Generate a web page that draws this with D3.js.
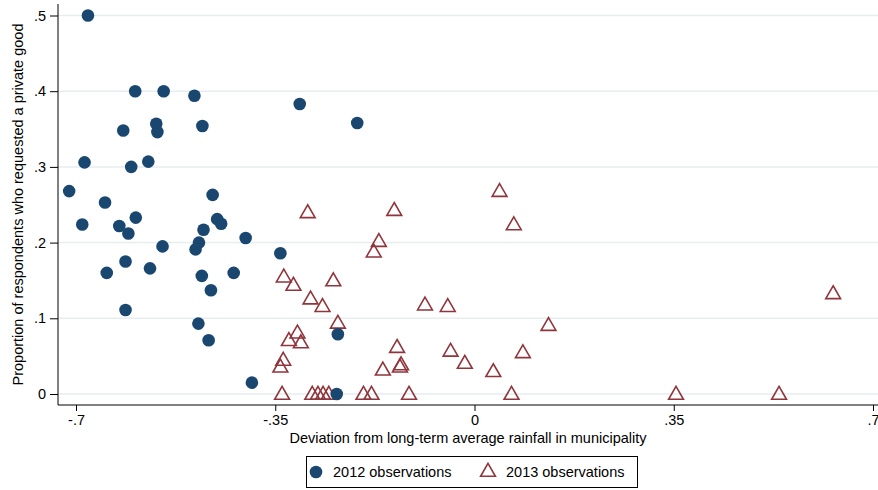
<!DOCTYPE html>
<html>
<head>
<meta charset="utf-8">
<script src="https://cdn.jsdelivr.net/npm/d3@7"></script>
<style>
  body { margin: 0; background: #fff; }
  text { font-family: "Liberation Sans", Arial, sans-serif; }
</style>
</head>
<body>
<div id="chart"></div>
<script>
// 2012 observations: rainfall deviation / proportion requesting private good
var dev2012 = [-0.679, -0.596, -0.546, -0.492, -0.307, -0.206, -0.617, -0.559, -0.557, -0.478,
               -0.685, -0.603, -0.573, -0.712, -0.649, -0.460, -0.595, -0.452, -0.445, -0.689,
               -0.624, -0.608, -0.646, -0.613, -0.570, -0.548, -0.613, -0.490, -0.484, -0.476,
               -0.479, -0.463, -0.423, -0.402, -0.341, -0.485, -0.467, -0.391, -0.240, -0.242];
var prop2012 = [0.500, 0.400, 0.400, 0.394, 0.383, 0.358, 0.348, 0.357, 0.346, 0.354,
                0.306, 0.300, 0.307, 0.268, 0.253, 0.263, 0.233, 0.231, 0.225, 0.224,
                0.222, 0.212, 0.160, 0.175, 0.166, 0.195, 0.111, 0.191, 0.200, 0.217,
                0.156, 0.137, 0.160, 0.206, 0.186, 0.093, 0.071, 0.015, 0.079, 0.000];

// 2013 observations
var dev2013 = [-0.293, -0.141, -0.168, -0.177, -0.335, -0.318, -0.248, -0.288, -0.267, -0.087,
               -0.047, -0.240, -0.311, -0.326, -0.305, -0.136, -0.042, -0.017, -0.336, -0.341,
               -0.161, -0.129, -0.131, -0.338, -0.285, -0.275, -0.266, -0.256, -0.195, -0.181,
               -0.115, 0.044, 0.069, 0.130, 0.085, 0.033, 0.065, 0.354, 0.535, 0.630];
var prop2013 = [0.240, 0.243, 0.202, 0.188, 0.155, 0.144, 0.150, 0.126, 0.116, 0.118,
                0.116, 0.094, 0.081, 0.071, 0.068, 0.062, 0.057, 0.041, 0.045, 0.036,
                0.032, 0.039, 0.036, 0.000, 0.000, 0.000, 0.000, 0.000, 0.000, 0.000,
                0.000, 0.268, 0.224, 0.091, 0.055, 0.030, 0.000, 0.000, 0.000, 0.133];

var xTicks = [-0.7, -0.35, 0, 0.35, 0.7];
var xTickLabels = ["-.7", "-.35", "0", ".35", ".7"];
var yTicks = [0, 0.1, 0.2, 0.3, 0.4, 0.5];
var yTickLabels = ["0", ".1", ".2", ".3", ".4", ".5"];
var legendLabels = ["2012 observations", "2013 observations"];

var W = 878, H = 490;
var plot = { left: 58, right: 878, top: 4, bottom: 405 };
var navy = "#1a476f", maroon = "#90353b";

var svg = d3.select("#chart")
    .append("svg")
    .attr("width", W)
    .attr("height", H);

// Scales
var xScale = d3.scaleLinear().domain([-0.7, 0.7]).range([76, 873]);
var yScale = d3.scaleLinear().domain([0, 0.5]).range([394, 15.5]);

// Gridlines
svg.append("g")
    .selectAll("line")
    .data(yTicks)
    .enter()
    .append("line")
    .attr("x1", plot.left)
    .attr("x2", plot.right)
    .attr("y1", function (d) { return yScale(d); })
    .attr("y2", function (d) { return yScale(d); })
    .attr("stroke", "#e6eef0")
    .attr("stroke-width", 1.5);

// Y axis
var yAxis = svg.append("g")
    .attr("transform", "translate(" + plot.left + ",0)")
    .call(d3.axisLeft(yScale)
        .tickValues(yTicks)
        .tickFormat(function (d, i) { return yTickLabels[i]; })
        .tickSize(8)
        .tickPadding(4));
yAxis.select(".domain").remove();
yAxis.selectAll("line").attr("stroke", "#000");
yAxis.selectAll("text").style("font-size", "14.5px").attr("fill", "#000");

// X axis
var xAxis = svg.append("g")
    .attr("transform", "translate(0," + plot.bottom + ")")
    .call(d3.axisBottom(xScale)
        .tickValues(xTicks)
        .tickFormat(function (d, i) { return xTickLabels[i]; })
        .tickSize(6)
        .tickPadding(4));
xAxis.select(".domain").remove();
xAxis.selectAll("line").attr("stroke", "#000");
xAxis.selectAll("text").style("font-size", "14.5px").attr("fill", "#000");

// Axis lines
svg.append("line")
    .attr("x1", plot.left).attr("x2", plot.left)
    .attr("y1", plot.top).attr("y2", plot.bottom)
    .attr("stroke", "#000").attr("stroke-width", 1);
svg.append("line")
    .attr("x1", plot.left).attr("x2", plot.right)
    .attr("y1", plot.bottom).attr("y2", plot.bottom)
    .attr("stroke", "#000").attr("stroke-width", 1);

// Axis titles
svg.append("text")
    .attr("x", (plot.left + plot.right) / 2)
    .attr("y", 443)
    .attr("text-anchor", "middle")
    .style("font-size", "14.5px")
    .text("Deviation from long-term average rainfall in municipality");

svg.append("text")
    .attr("transform", "translate(23," + ((plot.top + plot.bottom) / 2) + ") rotate(-90)")
    .attr("text-anchor", "middle")
    .style("font-size", "14.5px")
    .text("Proportion of respondents who requested a private good");

var tri = d3.symbol().type(d3.symbolTriangle).size(95);

// 2013 triangles
var data2013 = dev2013.map(function (d, i) { return { x: d, y: prop2013[i] }; });
svg.append("g")
    .selectAll("path")
    .data(data2013)
    .enter()
    .append("path")
    .attr("d", tri)
    .attr("transform", function (d) {
        return "translate(" + xScale(d.x) + "," + (yScale(d.y) + 1) + ")";
    })
    .attr("fill", "none")
    .attr("stroke", maroon)
    .attr("stroke-width", 1.6);

// 2012 circles
var data2012 = dev2012.map(function (d, i) { return { x: d, y: prop2012[i] }; });
svg.append("g")
    .selectAll("circle")
    .data(data2012)
    .enter()
    .append("circle")
    .attr("cx", function (d) { return xScale(d.x); })
    .attr("cy", function (d) { return yScale(d.y); })
    .attr("r", 6.3)
    .attr("fill", navy);

// Legend
var legend = svg.append("g");
legend.append("rect")
    .attr("x", 306.5).attr("y", 456.5)
    .attr("width", 331).attr("height", 31)
    .attr("fill", "#fff")
    .attr("stroke", "#000")
    .attr("stroke-width", 1);
legend.append("circle")
    .attr("cx", 316).attr("cy", 472).attr("r", 6.3)
    .attr("fill", navy);
legend.append("text")
    .attr("x", 333).attr("y", 477)
    .style("font-size", "14.5px")
    .text(legendLabels[0]);
legend.append("path")
    .attr("d", tri)
    .attr("transform", "translate(488,472)")
    .attr("fill", "none")
    .attr("stroke", maroon)
    .attr("stroke-width", 1.6);
legend.append("text")
    .attr("x", 506).attr("y", 477)
    .style("font-size", "14.5px")
    .text(legendLabels[1]);
</script>
</body>
</html>
